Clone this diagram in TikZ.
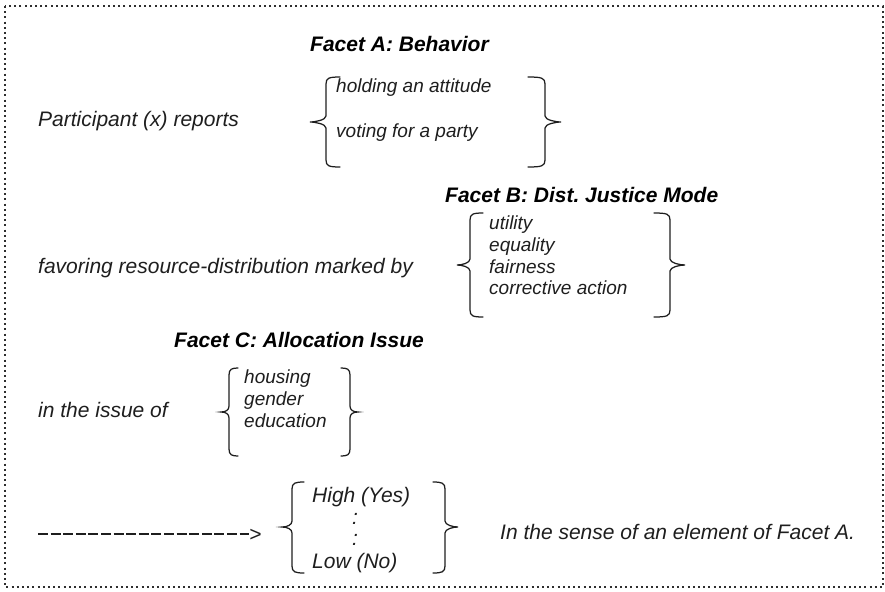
\documentclass[tikz,border=0pt]{standalone}
\usepackage{fontspec}
\setmainfont{Liberation Sans}
\frenchspacing
\definecolor{ink}{HTML}{1E1E1E}
\definecolor{framegray}{HTML}{2E2E2E}

% Curly brace opening to the right: tip x, spine x, hook x, top y, middle y, bottom y
\newcommand{\facetbraceL}[6]{%
  \draw[bracestroke] (#3,#4) .. controls (#2+3,#4) and (#2,#4+1) .. (#2,#4+7)
    -- (#2,#5-6) .. controls (#2,#5-2) and (#1+5,#5) .. (#1,#5)
    .. controls (#1+5,#5) and (#2,#5+2) .. (#2,#5+6)
    -- (#2,#6-7) .. controls (#2,#6-1) and (#2+3,#6) .. (#3,#6);}
% Curly brace opening to the left: tip x, spine x, hook x, top y, middle y, bottom y
\newcommand{\facetbraceR}[6]{%
  \draw[bracestroke] (#3,#4) .. controls (#2-3,#4) and (#2,#4+1) .. (#2,#4+7)
    -- (#2,#5-6) .. controls (#2,#5-2) and (#1-5,#5) .. (#1,#5)
    .. controls (#1-5,#5) and (#2,#5+2) .. (#2,#5+6)
    -- (#2,#6-7) .. controls (#2,#6-1) and (#2-3,#6) .. (#3,#6);}

\begin{document}
\begin{tikzpicture}[x=1pt,y=-1pt,
  body/.style={font=\fontsize{21}{25}\selectfont\itshape, inner sep=0pt, anchor=base west, text=ink},
  item/.style={font=\fontsize{19}{22}\selectfont\itshape, inner sep=0pt, anchor=base west, text=ink},
  facethead/.style={font=\fontsize{21}{25}\selectfont\bfseries\itshape, inner sep=0pt, anchor=base west, text=black},
  bracestroke/.style={line width=1.25pt, draw=ink, line cap=round},
  frame/.style={line width=2pt, dash pattern=on 2pt off 3.2pt, draw=framegray},
  leader/.style={line width=1.3pt, dash pattern=on 10pt off 2.6pt, draw=ink}]

\useasboundingbox (0,0) rectangle (885,591);
\draw[frame] (5,6) rectangle (883,587);

% Facet A
\node[facethead] (headA) at (310,52) {Facet A: Behavior};
\node[body] (reports) at (38,127) {Participant (x) reports};
\facetbraceL{310}{326}{340}{77}{122}{167}
\node[item] (attitude) at (336,93) {holding an attitude};
\node[item] (voting) at (336,137) {voting for a party};
\facetbraceR{561}{545}{528}{77}{122}{167}

% Facet B
\node[facethead] (headB) at (445,202) {Facet B: Dist. Justice Mode};
\node[body] (favoring) at (38,273) {favoring resource-distribution marked by};
\facetbraceL{457}{470}{483}{213}{265}{317}
\node[item] (utility) at (489,229) {utility};
\node[item] (equality) at (489,251) {equality};
\node[item] (fairness) at (489,273) {fairness};
\node[item] (corrective) at (489,294) {corrective action};
\facetbraceR{685}{670}{654}{213}{265}{317}

% Facet C
\node[facethead] (headC) at (174,347) {Facet C: Allocation Issue};
\node[body] (issue) at (38,417) {in the issue of};
\facetbraceL{221}{229}{238}{368}{412}{456}
\node[item] (housing) at (244,383) {housing};
\node[item] (gender) at (244,405) {gender};
\node[item] (education) at (244,427) {education};
\facetbraceR{358}{350}{341}{368}{412}{456}

% Outcome range
\coordinate (leadstart) at (38,534);
\node[body] (leadtip) at (249,541) {>};
\draw[leader] (leadstart) -- (leadtip.west |- leadstart);
\facetbraceL{282}{292}{304}{482}{527}{573}
\node[body] (high) at (312,502) {High (Yes)};
\node[body] (colonA) at (352,524) {:};
\node[body] (colonB) at (352,545) {:};
\node[body] (low) at (312,568) {Low (No)};
\facetbraceR{458}{445}{433}{482}{527}{573}
\node[body] (sense) at (500,539) {In the sense of an element of Facet A.};

\end{tikzpicture}
\end{document}
